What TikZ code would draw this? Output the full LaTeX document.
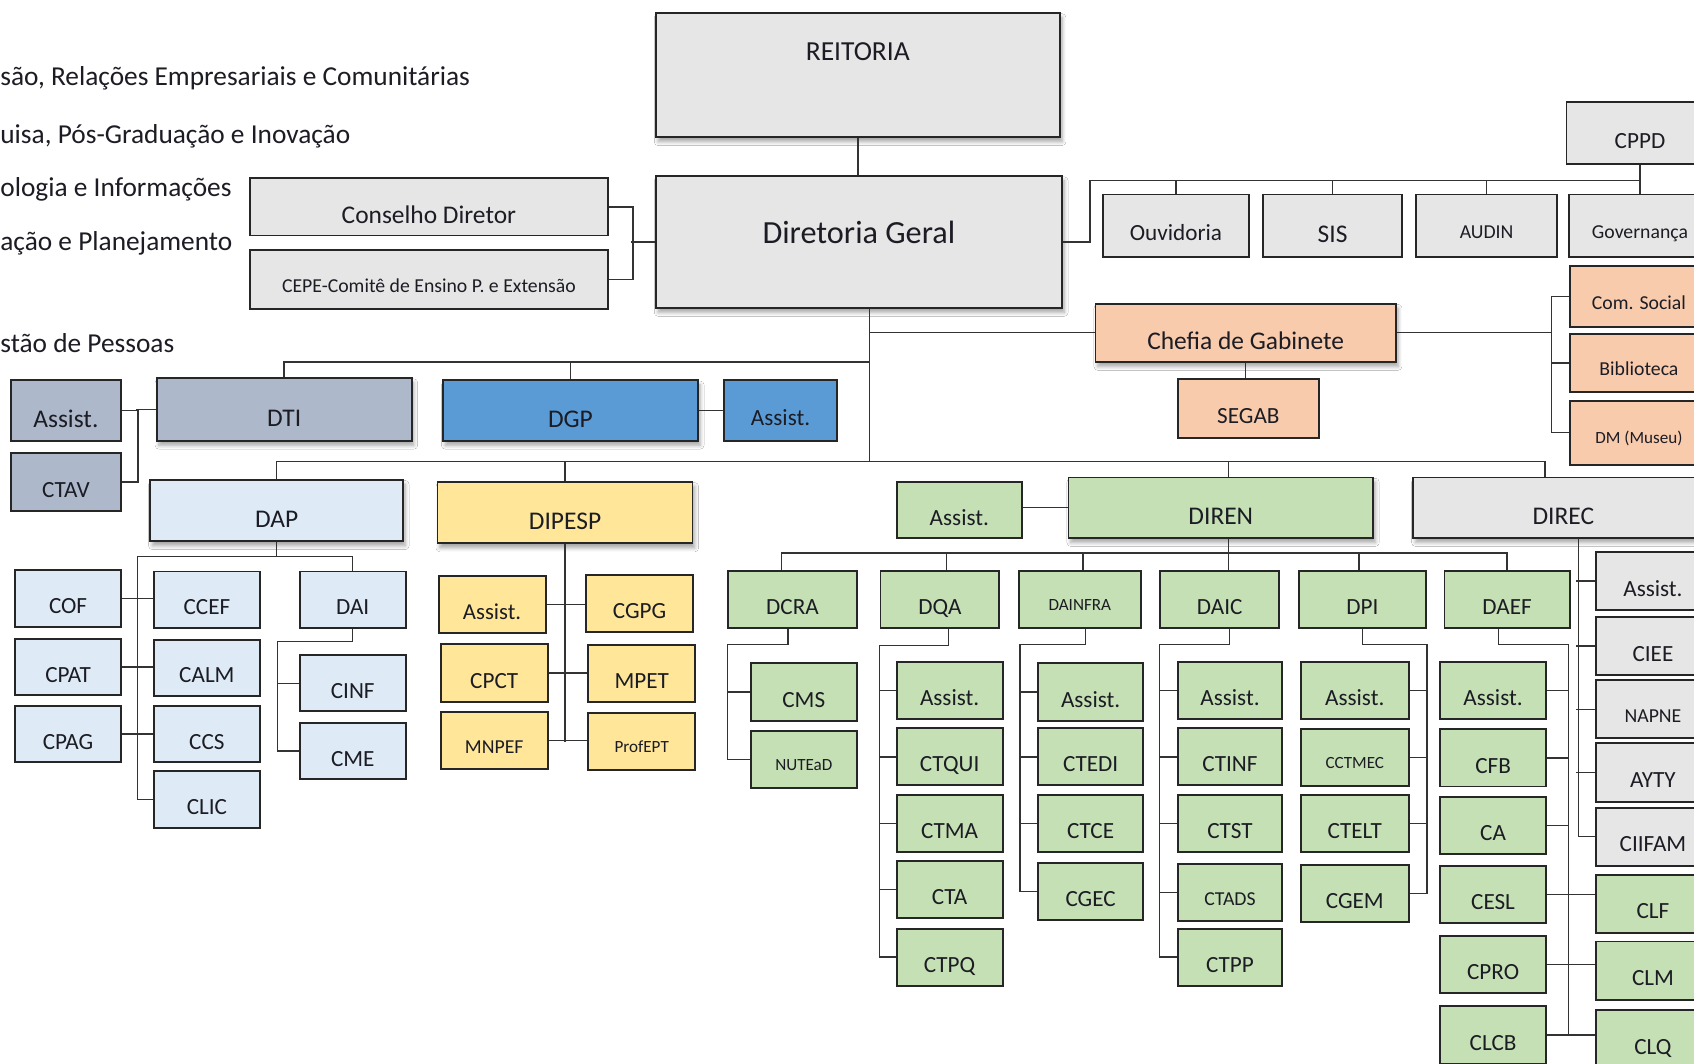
\documentclass[tikz,border=0pt]{standalone}
\usepackage{fontspec}
\setmainfont{Carlito}
\usetikzlibrary{calc,shadows.blur}

\definecolor{cgray}{HTML}{E6E6E6}
\definecolor{cslate}{HTML}{ADB9CA}
\definecolor{cblue}{HTML}{5B9BD5}
\definecolor{clblue}{HTML}{DEEBF7}
\definecolor{cyel}{HTML}{FFE699}
\definecolor{cgreen}{HTML}{C5E0B4}
\definecolor{corange}{HTML}{F8CBAD}
\definecolor{ink}{HTML}{1C1C24}

\tikzset{
  fs/.style={font=\fontsize{#1}{#1}\selectfont, text height=#1*1.31pt},
  fbig/.style={fs=13.4},
  fmid/.style={fs=10.4},
  fsmall/.style={fs=9},
  sz/.style 2 args={minimum width=#1*0.2mm, minimum height=#2*0.2mm},
  box/.style={draw=black!85, line width=1pt, inner sep=1pt, text=ink, text depth=0pt, fs=12.2},
  shad/.style={blur shadow={shadow xshift=1.2pt, shadow yshift=-2.4pt, shadow opacity=35, shadow blur steps=6, shadow blur radius=2pt}},
  link/.style={draw=black!80, line width=0.75pt},
  note/.style={anchor=base west, inner sep=0pt, fs=14.4, text=ink},
}

\begin{document}
\begin{tikzpicture}[x=0.2mm, y=-0.2mm]
        \path[use as bounding box] (0,0) rectangle (1568,984);
        \clip (0,0) rectangle (1568,984);
        \fill[white] (0,0) rectangle (1568,984);

        % texts on the left
        \node[note] (n1) at (0,79) {são, Relações Empresariais e Comunitárias};
        \node[note] (n2) at (0,133) {uisa, Pós-Graduação e Inovação};
        \node[note] (n3) at (0,182) {ologia e Informações};
        \node[note] (n4) at (0,232) {ação e Planejamento};
        \node[note] (n5) at (0,326) {stão de Pessoas};

        % top
        \node[box, shad, fill=cgray, sz={374}{115}, fs=14.5, text height=10pt, text depth=25pt] (reit) at (794,69.5) {REITORIA};
        \node[box, shad, fill=cgray, sz={376}{122}, fs=17, text height=12pt, text depth=10.2pt] (dg) at (795,224) {Diretoria Geral};
        \node[box, fill=cgray, sz={332}{53}, fbig] (cons) at (397,191.5) {Conselho Diretor};
        \node[box, fill=cgray, sz={332}{55}, fmid] (cepe) at (397,258.5) {CEPE-Comitê de Ensino P. e Extensão};

        \node[box, fill=cgray, sz={136}{58}] (cppd) at (1518,123) {CPPD};
        \node[box, fill=cgray, sz={135}{58}] (ouv) at (1088.5,209) {Ouvidoria};
        \node[box, fill=cgray, sz={129}{58}, fbig] (sis) at (1233.5,209) {SIS};
        \node[box, fill=cgray, sz={130}{58}, fmid] (audin) at (1376,209) {AUDIN};
        \node[box, fill=cgray, sz={132}{58}, fmid] (gov) at (1518,209) {Governança};

        \node[box, fill=corange, sz={128}{57}, fmid] (coms) at (1517,274.5) {Com. Social};
        \node[box, fill=corange, sz={128}{54}, fmid] (bibl) at (1517,336) {Biblioteca};
        \node[box, fill=corange, sz={128}{59}, fsmall] (dm) at (1517,400.5) {DM (Museu)};
        \node[box, shad, fill=corange, sz={278}{54}, fbig] (chefia) at (1153,308) {Chefia de Gabinete};
        \node[box, fill=corange, sz={131}{54}] (segab) at (1155.5,378) {SEGAB};

        % second level
        \node[box, fill=cslate, sz={102}{56}, fbig] (asti) at (61,380) {Assist.};
        \node[box, fill=cslate, sz={102}{54}] (ctav) at (61,446) {CTAV};
        \node[box, shad, fill=cslate, sz={236}{58}, fbig] (dti) at (263,379) {DTI};
        \node[box, shad, fill=cblue, sz={236}{56}, fbig] (dgp) at (528,380) {DGP};
        \node[box, fill=cblue, sz={105}{56}] (asgp) at (722.5,380) {Assist.};

        \node[box, shad, fill=clblue, sz={234}{57}, fbig] (dap) at (256,472.5) {DAP};
        \node[box, shad, fill=cyel, sz={236}{57}, fbig] (dipesp) at (523,474.5) {DIPESP};
        \node[box, fill=cgreen, sz={116}{52}] (asren) at (888,472) {Assist.};
        \node[box, shad, fill=cgreen, sz={282}{56}, fbig] (diren) at (1130,470) {DIREN};
        \node[box, shad, fill=cgray, sz={278}{56}, fbig] (direc) at (1447,470) {DIREC};

        % DAP
        \foreach \n/\x/\y/\t in {cof/63/554/COF, cpat/63/617.5/CPAT, cpag/63/679.5/CPAG,
                ccef/191.5/555/CCEF, calm/191.5/618/CALM, ccs/191.5/679.5/CCS, clic/191.5/740/CLIC,
                dai/326.5/555/DAI, cinf/326.5/632.5/CINF, cme/326.5/695/CME}{
                \node[box, fill=clblue, sz={98}{52}] (\n) at (\x,\y) {\t};
            }

        % DIPESP
        \foreach \n/\x/\y/\f/\t in {aspe/455.5/559.5/12/Assist., cpct/457.5/623/12.2/CPCT, mnpef/457.5/685.5/10.4/MNPEF,
                cgpg/592/558.5/12.2/CGPG, mpet/594/623.5/12.2/MPET, profept/594/686.5/9/ProfEPT}{
                \node[box, fill=cyel, sz={99}{53}, fs=\f] (\n) at (\x,\y) {\t};
            }

        % DIREN
        \foreach \n/\x/\w/\f/\t in {dcra/733.5/119/12.2/DCRA, dqa/870/110/12.2/DQA, dainfra/999.5/113/9/DAINFRA,
                daic/1129/110/12.2/DAIC, dpi/1261/118/12.2/DPI, daef/1395/116/12.2/DAEF}{
                \node[box, fill=cgreen, sz={\w}{53}, fs=\f] (\n) at (\x,555) {\t};
            }

        \node[box, fill=cgreen, sz={98}{53}] (cms) at (744,640.5) {CMS};
        \node[box, fill=cgreen, sz={98}{52}, fsmall] (nutead) at (744,703) {NUTEaD};

        \foreach \n/\y/\t in {asqa/639/Assist., ctqui/700.5/CTQUI, ctma/762/CTMA, cta/823.5/CTA, ctpq/886/CTPQ}{
                \node[box, fill=cgreen, sz={98}{53}] (\n) at (879,\y) {\t};
            }
        \foreach \n/\y/\t in {asin/640.5/Assist., ctedi/700.5/CTEDI, ctce/762/CTCE, cgec/825/CGEC}{
                \node[box, fill=cgreen, sz={97}{53}] (\n) at (1009.5,\y) {\t};
            }
        \foreach \n/\y/\f/\t in {asic/639/12.2/Assist., ctinf/700.5/12.2/CTINF, ctst/762/12.2/CTST,
                ctads/826/10.4/CTADS, ctpp/886/12.2/CTPP}{
                \node[box, fill=cgreen, sz={97}{53}, fs=\f] (\n) at (1138.5,\y) {\t};
            }
        \foreach \n/\y/\f/\t in {aspi/639/12.2/Assist., cctmec/701/9/CCTMEC, ctelt/762/12.2/CTELT, cgem/827/12.2/CGEM}{
                \node[box, fill=cgreen, sz={100}{53}, fs=\f] (\n) at (1254,\y) {\t};
            }
        \foreach \n/\y/\t in {asef/639/Assist., cfb/701.5/CFB, ca/764/CA, cesl/828/CESL, cpro/892.5/CPRO, clcb/958/CLCB}{
                \node[box, fill=cgreen, sz={98}{53}] (\n) at (1382,\y) {\t};
            }

        % DIREC
        \foreach \n/\y/\f/\c/\t in {asec/537.75/12.2/cgray/Assist., ciee/598/12.2/cgray/CIEE, napne/656.5/10.4/cgray/NAPNE,
                ayty/715/12.2/cgray/AYTY, ciifam/774.5/12.2/cgray/CIIFAM, clf/836.5/12.2/cgreen/CLF,
                clm/898.5/12.2/cgreen/CLM, clq/962/12.2/cgreen/CLQ}{
                \node[box, fill=\c, sz={106}{54}, fs=\f] (\n) at (1530,\y) {\t};
            }

        % connectors, top
        \draw[link] (reit.south) -- (reit.south |- dg.north);
        \draw[link] (cons.east) -- ++(22,0) |- (cepe.east);
        \draw[link] (dg.west) -- ++(-22,0);

        \coordinate (topbus) at (gov.north |- 0,167);
        \draw[link] (dg.east) -- ++(25,0) |- (topbus);
        \draw[link] (cppd.south) -- (gov.north);
        \foreach \n in {ouv, sis, audin}{
                \draw[link] (\n.north) -- (\n.north |- topbus);
            }

        \coordinate (trunk) at ($(dg.south)+(10,0)$);
        \coordinate (busA) at (trunk |- 0,335);
        \coordinate (busB) at (trunk |- 0,427);
        \draw[link] (trunk) -- (busB);
        \draw[link] (trunk |- chefia.west) -- (chefia.west);
        \draw[link] (chefia.south) -- (chefia.south |- segab.north);
        \draw[link] (chefia.east) -- ($(chefia.east -| coms.west)+(-16,0)$);
        \draw[link] (coms.west) -- ++(-16,0) |- (dm.west);
        \draw[link] (bibl.west) -- ++(-16,0);

        \draw[link] (busA) -| (dti.north);
        \draw[link] (dgp.north) -- (dgp.north |- busA);
        \draw[link] (asti.east) -- ++(15,0) |- (ctav.east);
        \draw[link] (dti.west) -- ++(-18,0);
        \draw[link] (dgp.east) -- (asgp.west);

        \coordinate (dapdrop) at (dap.north |- busB);
        \coordinate (direcdrop) at ($(direc.north |- busB)+(-17,0)$);
        \draw[link] (dap.north) -- (dapdrop) -- (direcdrop) -- (direcdrop |- direc.north);
        \draw[link] (dipesp.north) -- (dipesp.north |- busB);
        \draw[link] ($(diren.north)+(7,0)$) -- ($(diren.north |- busB)+(7,0)$);
        \draw[link] (asren.east |- diren.west) -- (diren.west);

        % DAP
        \coordinate (dapv) at ($(cof.east)!0.5!(ccef.west)$);
        \draw[link] (dap.south) -- ++(0,13) coordinate (dapj);
        \draw[link] (dapv |- dapj) -| (dai.north);
        \draw[link] (dapv |- dapj) |- (clic.west);
        \foreach \a/\b in {cof/ccef, cpat/calm, cpag/ccs}{
                \draw[link] (\a.east) -- (\a.east -| \b.west);
            }
        \draw[link] (dai.south) -- ++(0,12) -| ($(cme.west)+(-20,0)$) -- (cme.west);
        \draw[link] (cinf.west) -- ++(-20,0);

        % DIPESP
        \draw[link] (dipesp.south) -- (dipesp.south |- profept.west);
        \foreach \a/\b in {aspe/cgpg, cpct/mpet, mnpef/profept}{
                \draw[link] (\a.east) -- (\a.east -| \b.west);
            }

        % DIREN
        \coordinate (renbus) at ($(diren.south)+(7,13)$);
        \draw[link] ($(diren.south)+(7,0)$) -- ($(daic.north)+(8,0)$);
        \draw[link] ($(dcra.north)+(-10,0)$) |- (daef.north |- renbus) -- (daef.north);
        \foreach \n/\d in {dqa/6, dainfra/3, dpi/-3}{
                \draw[link] ($(\n.north)+(\d,0)$) -- ($(\n.north |- renbus)+(\d,0)$);
            }

        \draw[link] ($(dcra.south)+(-4,0)$) -- ++(0,14) -| ($(nutead.west)+(-21,0)$) -- (nutead.west);
        \draw[link] (cms.west) -- ++(-21,0);

        \draw[link] ($(dqa.south)+(8,0)$) -- ++(0,15) -| ($(ctpq.west)+(-15,0)$) -- (ctpq.west);
        \foreach \n in {asqa, ctqui, ctma, cta}{
                \draw[link] (\n.west) -- ++(-15,0);
            }

        \draw[link] ($(dainfra.south)+(5,0)$) -- ++(0,14) -| ($(cgec.west)+(-16,0)$) -- (cgec.west);
        \foreach \n in {asin, ctedi, ctce}{
                \draw[link] (\n.west) -- ++(-16,0);
            }

        \draw[link] ($(daic.south)+(9,0)$) -- ++(0,14) -| ($(ctpp.west)+(-16,0)$) -- (ctpp.west);
        \foreach \n in {asic, ctinf, ctst, ctads}{
                \draw[link] (\n.west) -- ++(-16,0);
            }

        \draw[link] (dpi.south) -- ++(0,14) -| ($(cgem.east)+(16,0)$) -- (cgem.east);
        \foreach \n in {aspi, cctmec, ctelt}{
                \draw[link] (\n.east) -- ++(16,0);
            }

        \draw[link] ($(daef.south)+(-8,0)$) -- ++(0,14) -| ($(clcb.east)+(20,0)$);
        \foreach \n in {asef, cfb, ca}{
                \draw[link] (\n.east) -- ++(20,0);
            }
        \foreach \a/\b in {cesl/clf, cpro/clm, clcb/clq}{
                \draw[link] (\a.east) -- (\a.east -| \b.west);
            }

        % DIREC
        \draw[link] ($(direc.south)+(14,0)$) |- (ciifam.west);
        \foreach \n in {asec, ciee, napne, ayty}{
                \draw[link] (\n.west) -- ++(-17,0);
            }
    \end{tikzpicture}
\end{document}
